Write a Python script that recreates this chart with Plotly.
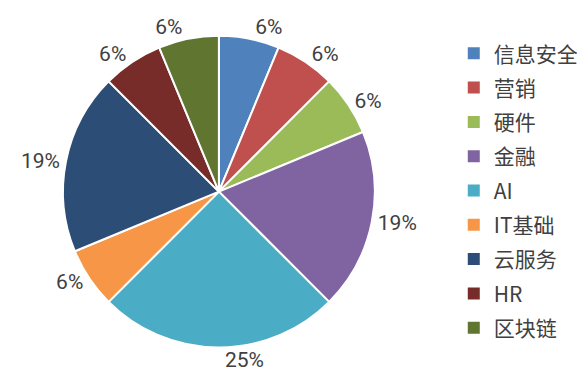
import plotly.graph_objects as go

categories = ["信息安全", "营销", "硬件", "金融", "AI", "IT基础", "云服务", "HR", "区块链"]
values = [1, 1, 1, 3, 4, 1, 3, 1, 1]
colors = ["#4F81BD", "#C0504D", "#9BBB59", "#8064A2", "#4BACC6",
          "#F79646", "#2C4D75", "#772C2A", "#5F7530"]

font_family = "Noto Sans CJK SC, Microsoft YaHei, sans-serif"
label_family = "Roboto, Noto Sans, sans-serif"

fig = go.Figure()
fig.add_trace(go.Pie(
    labels=categories,
    values=values,
    sort=False,
    direction="clockwise",
    rotation=0,
    marker=dict(colors=colors, line=dict(color="white", width=2)),
    textposition="outside",
    texttemplate="%{percent:.0%}",
    textfont=dict(size=21, color="#404040", family=label_family),
    domain=dict(x=[0.094, 0.627], y=[0.122, 0.929]),
    hoverinfo="label+percent",
    showlegend=False,
))

# legend entries (one group each so spacing can be controlled)
for name, col in zip(categories, colors):
    fig.add_trace(go.Scatter(
        x=[None], y=[None], mode="markers", name=name,
        legendgroup=name,
        marker=dict(symbol="square", size=12, color=col),
        hoverinfo="skip",
    ))

fig.update_layout(
    width=585, height=387,
    margin=dict(l=0, r=0, t=0, b=0),
    paper_bgcolor="white",
    plot_bgcolor="white",
    font=dict(family=font_family, color="#404040"),
    xaxis=dict(visible=False),
    yaxis=dict(visible=False),
    legend=dict(
        x=0.762, y=0.935, xanchor="left", yanchor="top",
        font=dict(size=21, color="#404040", family=font_family),
        itemwidth=30,
        tracegroupgap=4,
        traceorder="grouped",
        bgcolor="rgba(0,0,0,0)",
    ),
)

fig.write_html("out.html")
